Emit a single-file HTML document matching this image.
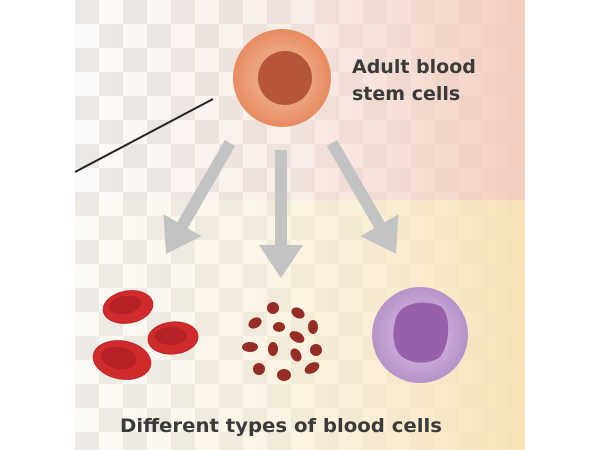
<!DOCTYPE html>
<html><head><meta charset="utf-8"><style>
html,body{margin:0;padding:0;background:#fff;width:600px;height:450px;overflow:hidden}
text{font-family:"DejaVu Sans","Liberation Sans",sans-serif;font-weight:bold;fill:#3a3a3a}
</style></head><body>
<svg width="600" height="450" viewBox="0 0 600 450" xmlns="http://www.w3.org/2000/svg">
<defs>
<pattern id="chk" x="75" y="0" width="48" height="48" patternUnits="userSpaceOnUse">
<rect width="48" height="48" fill="#fcfbfa"/>
<rect width="24" height="24" fill="#ebe9e7"/>
<rect x="24" y="24" width="24" height="24" fill="#ebe9e7"/>
</pattern>
<linearGradient id="pink" x1="0" x2="1" y1="0" y2="0">
<stop offset="0" stop-color="#f6d2c4" stop-opacity="0"/>
<stop offset="0.5" stop-color="#f6d2c4" stop-opacity="0.35"/>
<stop offset="1" stop-color="#f4cbbb" stop-opacity="0.95"/>
</linearGradient>
<linearGradient id="yel" x1="0" x2="1" y1="0" y2="0">
<stop offset="0" stop-color="#fbf0d8" stop-opacity="0.1"/>
<stop offset="0.5" stop-color="#faedcc" stop-opacity="0.55"/>
<stop offset="1" stop-color="#f8e2b4" stop-opacity="0.95"/>
</linearGradient>
<radialGradient id="stem" cx="0.5" cy="0.5" r="0.5">
<stop offset="0.6" stop-color="#eca37f"/>
<stop offset="1" stop-color="#e88a5f"/>
</radialGradient>
<radialGradient id="wbc" cx="0.5" cy="0.5" r="0.5">
<stop offset="0.6" stop-color="#c8a7d6"/>
<stop offset="1" stop-color="#b592c8"/>
</radialGradient>
</defs>
<rect x="75" y="0" width="450" height="450" fill="url(#chk)"/>
<rect x="75" y="0" width="450" height="200" fill="url(#pink)"/>
<rect x="75" y="200" width="450" height="250" fill="url(#yel)"/>
<line x1="75" y1="172" x2="213" y2="99" stroke="#222" stroke-width="2"/>
<circle cx="282" cy="78" r="49" fill="url(#stem)"/>
<circle cx="285" cy="78" r="27" fill="#b5553a"/>
<text x="352" y="73" font-size="19">Adult blood</text>
<text x="352" y="100" font-size="19">stem cells</text>
<g fill="#c3c3c3">
<polygon points="-6,0 6,0 6,95 22,95 0,128 -22,95 -6,95" transform="translate(281,150)"/>
<polygon points="-6,0 6,0 6,95 22,95 0,128 -22,95 -6,95" transform="translate(230,143) rotate(30)"/>
<polygon points="-6,0 6,0 6,95 22,95 0,128 -22,95 -6,95" transform="translate(332,143) rotate(-30)"/>
</g>
<g fill="#cf2a2c" stroke="#c22226" stroke-width="1">
<ellipse cx="128" cy="307" rx="25" ry="16" transform="rotate(-10 128 307)"/>
<ellipse cx="173" cy="338" rx="25" ry="16" transform="rotate(-5 173 338)"/>
<ellipse cx="122" cy="360" rx="29" ry="19" transform="rotate(10 122 360)"/>
</g>
<g fill="#b52124">
<ellipse cx="125" cy="305" rx="16" ry="9" transform="rotate(-10 125 305)"/>
<ellipse cx="171" cy="336" rx="16" ry="9"/>
<ellipse cx="119" cy="358" rx="18" ry="11" transform="rotate(10 119 358)"/>
</g>
<g fill="#962d24">
<ellipse cx="273" cy="308" rx="6" ry="6"/>
<ellipse cx="298" cy="313" rx="7" ry="5" transform="rotate(30 298 313)"/>
<ellipse cx="255" cy="323" rx="7" ry="5" transform="rotate(-30 255 323)"/>
<ellipse cx="279" cy="327" rx="6" ry="5"/>
<ellipse cx="313" cy="327" rx="5" ry="7"/>
<ellipse cx="297" cy="337" rx="8" ry="5" transform="rotate(30 297 337)"/>
<ellipse cx="250" cy="347" rx="8" ry="5"/>
<ellipse cx="273" cy="349" rx="5" ry="7"/>
<ellipse cx="296" cy="355" rx="5" ry="7" transform="rotate(-30 296 355)"/>
<ellipse cx="316" cy="350" rx="6" ry="6"/>
<ellipse cx="259" cy="369" rx="6" ry="6"/>
<ellipse cx="284" cy="375" rx="7" ry="6"/>
<ellipse cx="312" cy="368" rx="8" ry="5" transform="rotate(-30 312 368)"/>
</g>
<circle cx="420" cy="335" r="48" fill="url(#wbc)"/>
<path d="M395 322 C398 300,428 300,440 306 C452 314,450 345,440 357 C428 366,405 364,398 352 C392 343,393 330,395 322 Z" fill="#9760a8"/>
<text x="120" y="432" font-size="19" textLength="322" lengthAdjust="spacingAndGlyphs">Different types of blood cells</text>
</svg>
</body></html>
